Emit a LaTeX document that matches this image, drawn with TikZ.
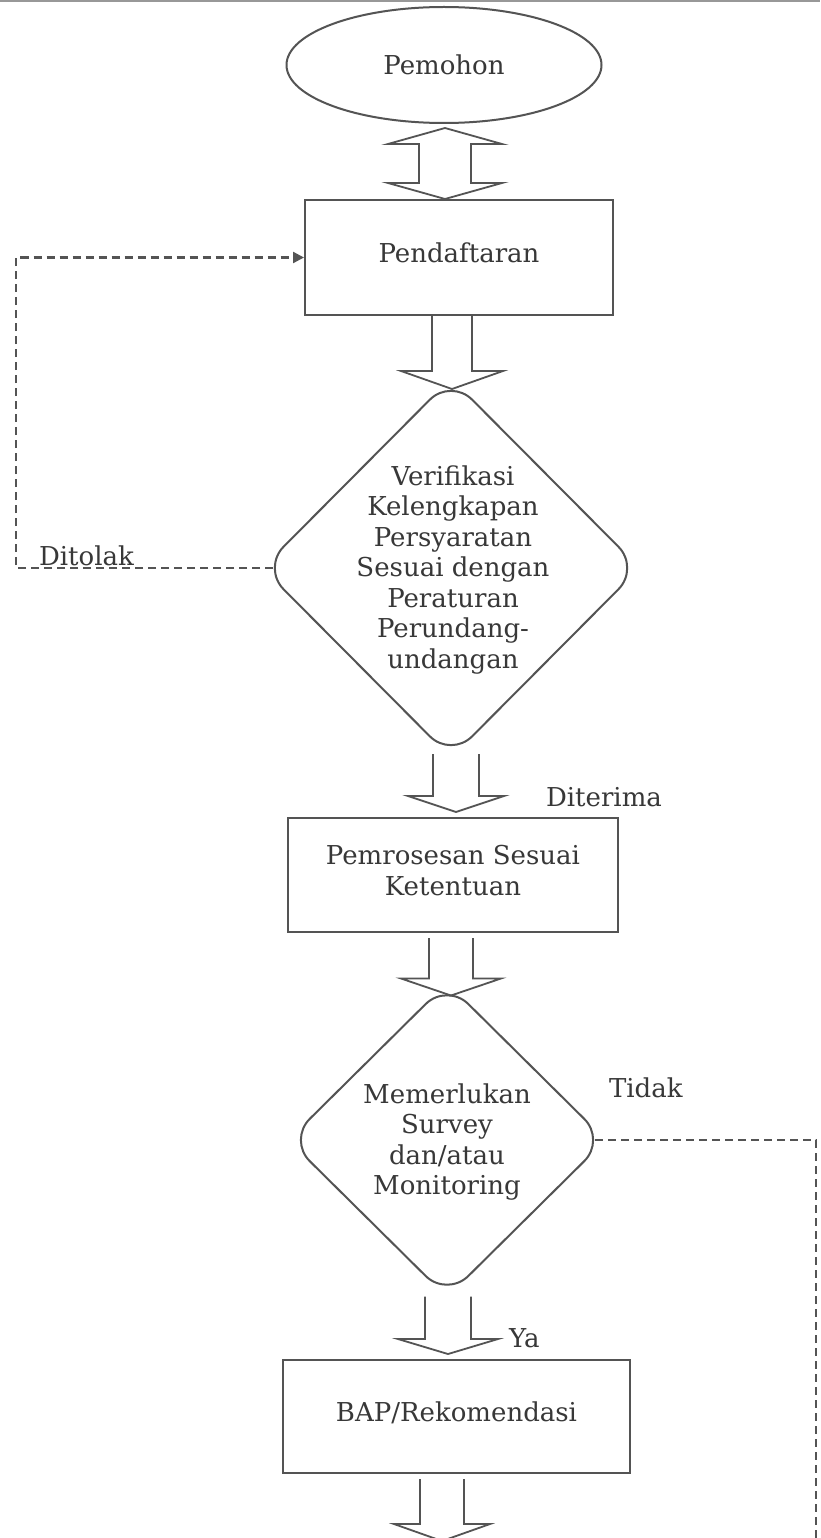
\documentclass[tikz,border=0pt]{standalone}
\usepackage{tikz}
\usepackage{fontspec}
\setmainfont{DejaVu Serif}
\usetikzlibrary{shapes.geometric,arrows.meta,calc}
\definecolor{linec}{gray}{0.33}
\definecolor{txtc}{gray}{0.22}
\newcommand{\blockarrow}[6]{%
  \draw[barrow] let \p1=(#2), \p2=(#3) in
    (#1pt-#4pt,\y1) -- (#1pt-#4pt,\y2+#6pt) -- (#1pt-#5pt,\y2+#6pt) -- (#1pt,\y2)
    -- (#1pt+#5pt,\y2+#6pt) -- (#1pt+#4pt,\y2+#6pt) -- (#1pt+#4pt,\y1);}
\begin{document}
\begin{tikzpicture}[x=1pt,y=-1pt,
  line width=2pt,
  every node/.style={font=\fontsize{26}{30.5}\selectfont, text=txtc},
  proc/.style={draw=linec, rectangle, inner sep=0pt, text depth=9pt},
  term/.style={draw=linec, ellipse, inner sep=0pt},
  decision/.style={draw=linec, diamond, inner sep=0pt, rounded corners=30pt},
  lbl/.style={inner sep=0pt},
  flowline/.style={draw=linec, dash pattern=on 8pt off 5pt, line width=2.2pt},
  barrow/.style={draw=linec, line width=1.8pt, line join=miter},
]
\useasboundingbox (0,0) rectangle (820,1538);
\clip (0,0) rectangle (820,1538);
\fill[white] (0,0) rectangle (820,1538);
\draw[linec!60, line width=2pt] (0,1) -- (820,1);

% nodes
\node[term, minimum width=315pt, minimum height=116pt] (pemohon) at (444,65) {Pemohon};
\node[proc, minimum width=308pt, minimum height=115pt] (daftar) at (459,257.5) {Pendaftaran};
\node[decision, minimum width=378pt, minimum height=380pt] (verif) at (451,568) {};
\node[align=center, inner sep=0pt] (veriftext) at (453,570) {Verifikasi\\Kelengkapan\\Persyaratan\\Sesuai dengan\\Peraturan\\Perundang-\\undangan};
\node[proc, minimum width=330pt, minimum height=114pt, align=center] (proses) at (453,875) {Pemrosesan Sesuai\\Ketentuan};
\node[decision, minimum width=318pt, minimum height=315pt] (survey) at (447,1140) {};
\node[align=center, inner sep=0pt] (surveytext) at (447,1142) {Memerlukan\\Survey\\dan/atau\\Monitoring};
\node[proc, minimum width=347pt, minimum height=113pt] (bap) at (456.5,1416.5) {BAP/Rekomendasi};
\coordinate (next) at (443,1541);
\coordinate (lx) at (16,257.5);
\coordinate (tend) at (816,1545);

% labels
\node[lbl, anchor=west] (ditolak) at (38,556) {Ditolak};
\node[lbl, anchor=west] (diterima) at (545,797) {Diterima};
\node[lbl, anchor=west] (tidak) at (608,1088) {Tidak};
\node[lbl, anchor=west] (ya) at (508,1338) {Ya};

% double block arrow
\draw[barrow] let \p1=($(pemohon.south)+(0,4)$), \p2=(daftar.north) in
  (445pt,\y1) -- (445pt-57pt,\y1-16pt) -- (445pt-26pt,\y1-16pt) -- (445pt-26pt,\y2+16pt)
  -- (445pt-57pt,\y2+16pt) -- (445pt,\y2) -- (445pt+57pt,\y2+16pt) -- (445pt+26pt,\y2+16pt)
  -- (445pt+26pt,\y1-16pt) -- (445pt+57pt,\y1-16pt) -- cycle;

% block arrows
\blockarrow{452}{daftar.south}{$(verif.north)+(0,12)$}{20}{51}{18}
\blockarrow{456}{$(verif.south)+(0,-5)$}{$(proses.north)+(0,-5)$}{23}{48}{16}
\blockarrow{451}{$(proses.south)+(0,5)$}{$(survey.north)+(0,14)$}{22}{50}{17}
\blockarrow{448}{$(survey.south)+(0,-2)$}{$(bap.north)+(0,-5)$}{23}{50}{15}
\blockarrow{442}{$(bap.south)+(0,5)$}{next}{22}{48}{17}

% dashed flow lines
\draw[flowline, -{Triangle[length=11pt,width=11pt]}] ($(verif.west)+(12,0)$) -| (lx) -- (daftar.west);
\draw[flowline] ($(survey.east)+(-12,0)$) -| (tend);
\end{tikzpicture}
\end{document}
